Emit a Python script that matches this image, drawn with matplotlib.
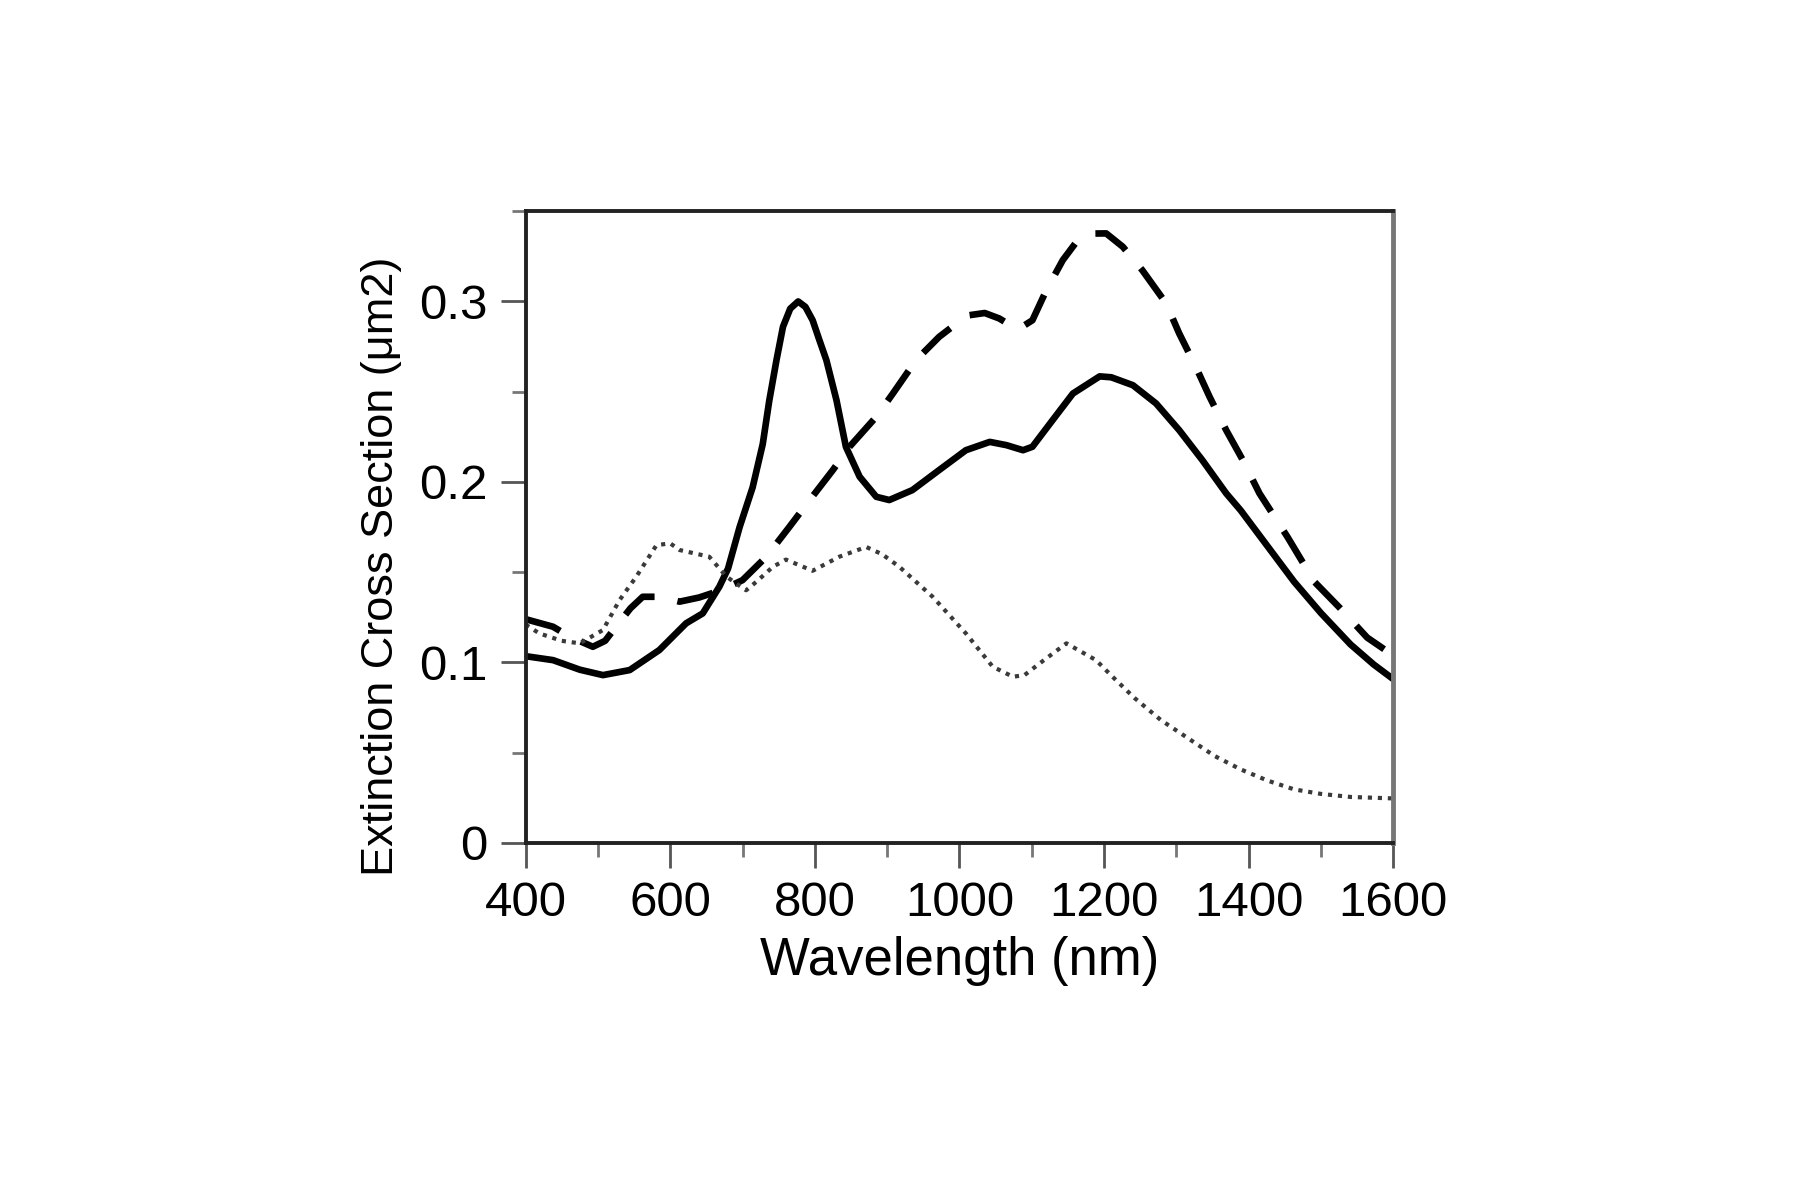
import matplotlib
matplotlib.use("Agg")
import matplotlib.pyplot as plt
import matplotlib.ticker as ticker

# solid curve
solid_x = [400, 438, 475, 507, 544, 585, 622, 645, 668, 680, 696, 714, 728,
           737, 747, 756, 766, 777, 787, 797, 806, 816, 830, 843, 862, 885,
           903, 935, 972, 1009, 1042, 1065, 1088, 1101, 1129, 1157, 1194,
           1210, 1240, 1272, 1304, 1336, 1369, 1389, 1426, 1463, 1500, 1541,
           1573, 1600]
solid_y = [0.1035, 0.1013, 0.0960, 0.0930, 0.0958, 0.1069, 0.1217, 0.1272,
           0.1420, 0.1520, 0.1750, 0.1970, 0.2210, 0.2450, 0.2675, 0.2860,
           0.2960, 0.3000, 0.2970, 0.2896, 0.2790, 0.2675, 0.2453, 0.2195,
           0.2029, 0.1918, 0.1900, 0.1955, 0.2066, 0.2176, 0.2222, 0.2204,
           0.2176, 0.2195, 0.2343, 0.2490, 0.2585, 0.2580, 0.2536, 0.2435,
           0.2287, 0.2121, 0.1937, 0.1843, 0.1645, 0.1447, 0.1274, 0.1100,
           0.0989, 0.0908]

# dashed curve
dashed_x = [400, 438, 461, 493, 510, 525, 545, 562, 585, 613, 640, 670, 700,
            733, 765, 793, 825, 848, 885, 908, 940, 972, 1000, 1014, 1035,
            1055, 1070, 1083, 1101, 1120, 1143, 1160, 1182, 1203, 1226, 1253,
            1286, 1304, 1327, 1346, 1369, 1392, 1415, 1454, 1491, 1527, 1564,
            1600]
dashed_y = [0.1240, 0.1198, 0.1143, 0.1087, 0.1120, 0.1198, 0.1300, 0.1364,
            0.1364, 0.1337, 0.1360, 0.1400, 0.1456, 0.1586, 0.1752, 0.1900,
            0.2066, 0.2195, 0.2361, 0.2490, 0.2675, 0.2804, 0.2890, 0.2924,
            0.2936, 0.2906, 0.2870, 0.2850, 0.2896, 0.3060, 0.3229, 0.3320,
            0.3376, 0.3377, 0.3303, 0.3173, 0.2989, 0.2823, 0.2638, 0.2472,
            0.2287, 0.2121, 0.1937, 0.1694, 0.1447, 0.1299, 0.1138, 0.1039]

# dotted curve
dotted_x = [400, 419, 450, 475, 507, 530, 553, 581, 600, 613, 654, 678, 705,
            720, 742, 760, 797, 834, 871, 893, 917, 963, 1009, 1046, 1074,
            1090, 1111, 1148, 1189, 1210, 1242, 1279, 1316, 1353, 1389, 1426,
            1463, 1500, 1541, 1600]
dotted_y = [0.1210, 0.1161, 0.1120, 0.1106, 0.1180, 0.1346, 0.1475, 0.1650,
            0.1660, 0.1623, 0.1586, 0.1475, 0.1400, 0.1450, 0.1530, 0.1570,
            0.1508, 0.1586, 0.1640, 0.1600, 0.1530, 0.1364, 0.1161, 0.0977,
            0.0921, 0.0930, 0.0995, 0.1106, 0.1013, 0.0928, 0.0804, 0.0680,
            0.0581, 0.0482, 0.0408, 0.0346, 0.0297, 0.0272, 0.0255, 0.0247]


def main():
    plt.rcParams["font.family"] = ["Liberation Sans", "DejaVu Sans"]

    fig = plt.figure(figsize=(18, 12), dpi=100)
    ax = fig.add_axes([0.292, 0.2975, 0.482, 0.5265])

    ax.plot(solid_x, solid_y, color="black", linewidth=4.8,
            solid_capstyle="round", solid_joinstyle="round")
    ax.plot(dashed_x, dashed_y, color="black", linewidth=4.8,
            linestyle=(0, (5.5, 3.5)), dash_joinstyle="round")
    ax.plot(dotted_x, dotted_y, color="#3a3a3a", linewidth=3.0,
            linestyle=(0, (1.0, 1.4)))

    ax.set_xlim(400, 1600)
    ax.set_ylim(0, 0.35)

    ax.xaxis.set_major_locator(ticker.MultipleLocator(200))
    ax.xaxis.set_minor_locator(ticker.MultipleLocator(100))
    ax.yaxis.set_major_locator(ticker.FixedLocator([0, 0.1, 0.2, 0.3]))
    ax.yaxis.set_minor_locator(ticker.MultipleLocator(0.05))
    ax.yaxis.set_major_formatter(
        ticker.FuncFormatter(lambda v, pos: "0" if v == 0 else f"{v:.1f}"))

    ax.tick_params(which="major", direction="out", length=18, width=2,
                   color="#555555", labelsize=35.5, pad=9.5)
    ax.tick_params(which="minor", direction="out", length=10, width=2,
                   color="#777777")
    ax.tick_params(top=False, right=False, which="both")

    for side in ["left", "bottom", "top"]:
        ax.spines[side].set_linewidth(2.8)
        ax.spines[side].set_color("#222222")
    ax.spines["right"].set_linewidth(3.5)
    ax.spines["right"].set_color("#777777")

    ax.set_xlabel("Wavelength (nm)", fontsize=38, labelpad=7)
    ax.set_ylabel("Extinction Cross Section (\u03bcm2)", fontsize=32.5,
                  labelpad=12)
    ax.yaxis.label.set_y(0.438)

    fig.savefig("out.png", dpi=100)


if __name__ == '__main__':
    main()
